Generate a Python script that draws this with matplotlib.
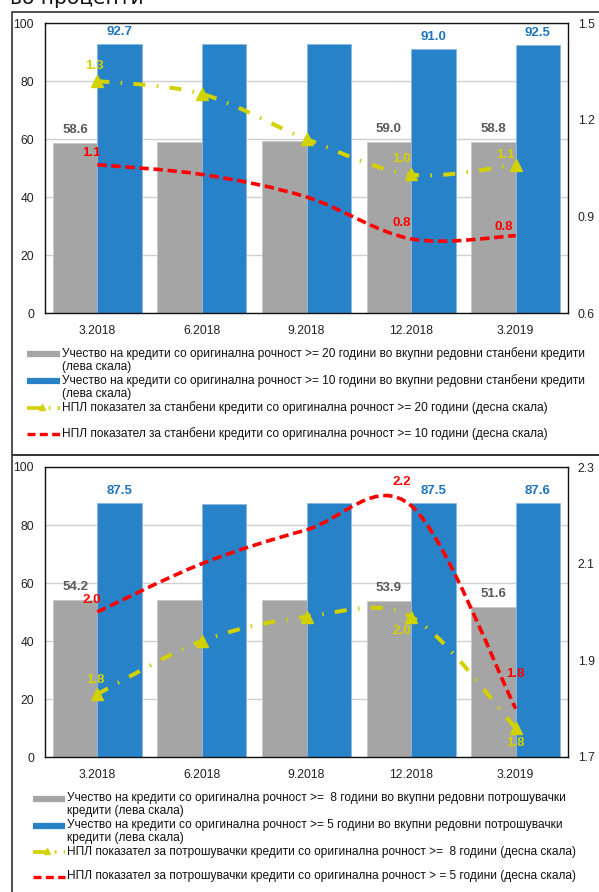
import matplotlib
matplotlib.use('Agg')
import matplotlib.pyplot as plt
from matplotlib.path import Path
from matplotlib.patches import PathPatch, Rectangle
from matplotlib.lines import Line2D

plt.rcParams['font.family'] = ['Liberation Sans', 'DejaVu Sans']

categories = ['3.2018', '6.2018', '9.2018', '12.2018', '3.2019']

# top panel (housing loans)
top_gray = [58.6, 58.9, 59.2, 59.0, 58.8]
top_blue = [92.7, 92.8, 92.7, 91.0, 92.5]
top_yellow = [1.32, 1.28, 1.14, 1.03, 1.06]
top_red = [1.06, 1.03, 0.96, 0.83, 0.84]

# bottom panel (consumer loans)
bot_gray = [54.2, 54.1, 54.0, 53.9, 51.6]
bot_blue = [87.5, 87.4, 87.6, 87.5, 87.6]
bot_yellow = [1.83, 1.94, 1.99, 1.99, 1.76]
bot_red = [2.00, 2.10, 2.17, 2.22, 1.80]

labelled = [0, 3, 4]

top_legend = [
    'Учество на кредити со оригинална рочност >= 20 години во вкупни редовни станбени кредити\n(лева скала)',
    'Учество на кредити со оригинална рочност >= 10 години во вкупни редовни станбени кредити\n(лева скала)',
    'НПЛ показател за станбени кредити со оригинална рочност >= 20 години (десна скала)',
    'НПЛ показател за станбени кредити со оригинална рочност >= 10 години (десна скала)',
]
bot_legend = [
    'Учество на кредити со оригинална рочност >=  8 години во вкупни редовни потрошувачки\nкредити (лева скала)',
    'Учество на кредити со оригинална рочност >= 5 години во вкупни редовни потрошувачки\nкредити (лева скала)',
    'НПЛ показател за потрошувачки кредити со оригинална рочност >=  8 години (десна скала)',
    'НПЛ показател за потрошувачки кредити со оригинална рочност > = 5 години (десна скала)',
]

W, H = 599, 892
GRAY = '#A5A5A5'
BLUE = '#2882C8'
YEL = '#D2D200'
RED = '#FF0000'
GRAY_T = '#595959'
BLUE_T = '#1F74BE'

fig = plt.figure(figsize=(W / 100, H / 100), dpi=100)


def fx(px):
    return px / W


def fy(py):
    return 1 - py / H


def smooth_path(xs, ys):
    P = list(zip(xs, ys))
    n = len(P)
    verts = [P[0]]
    codes = [Path.MOVETO]
    for i in range(n - 1):
        p0 = P[i - 1] if i > 0 else P[i]
        p1 = P[i]
        p2 = P[i + 1]
        p3 = P[i + 2] if i + 2 < n else P[i + 1]
        c1 = (p1[0] + (p2[0] - p0[0]) / 6, p1[1] + (p2[1] - p0[1]) / 6)
        c2 = (p2[0] - (p3[0] - p1[0]) / 6, p2[1] - (p3[1] - p1[1]) / 6)
        verts += [c1, c2, p2]
        codes += [Path.CURVE4] * 3
    return Path(verts, codes)


def panel(top_px, bot_px, gray, blue, yel, red, rlim, rticks,
          yel_off, red_off):
    ax = fig.add_axes([fx(45), fy(bot_px), fx(568) - fx(45), (bot_px - top_px) / H])
    x = list(range(len(categories)))
    w = 0.425
    ax.bar([i - w / 2 for i in x], gray, w, color=GRAY, edgecolor='#C8C8C8', lw=0.6, zorder=2)
    ax.bar([i + w / 2 for i in x], blue, w, color=BLUE, edgecolor='#8DB8E0', lw=0.6, zorder=2)
    ax.set_xlim(-0.5, len(categories) - 0.5)
    ax.set_ylim(0, 100)
    ax.set_yticks([0, 20, 40, 60, 80, 100])
    ax.set_xticks(x)
    ax.set_xticklabels(categories)
    ax.yaxis.grid(True, color='#D0D0D0', lw=1)
    ax.set_axisbelow(True)
    ax.tick_params(length=0, labelsize=8.7, colors='#222222')
    ax.tick_params(axis='y', pad=8)
    ax.tick_params(axis='x', pad=9)
    for s in ax.spines.values():
        s.set_color('#111111')
        s.set_linewidth(1.0)
    for i in labelled:
        ax.annotate(f'{gray[i]:.1f}', (i - w / 2, gray[i]), xytext=(0, 13),
                    textcoords='offset pixels', ha='center', va='center',
                    fontsize=9.5, fontweight='bold', color=GRAY_T)
        ax.annotate(f'{blue[i]:.1f}', (i + w / 2, blue[i]), xytext=(0, 12),
                    textcoords='offset pixels', ha='center', va='center',
                    fontsize=9.5, fontweight='bold', color=BLUE_T)

    ax2 = ax.twinx()
    ax2.set_ylim(*rlim)
    ax2.set_yticks(rticks)
    ax2.set_yticklabels([f'{t:.1f}' for t in rticks])
    ax2.tick_params(length=0, labelsize=8.7, pad=7, colors='#222222')
    for s in ax2.spines.values():
        s.set_visible(False)

    ax2.add_patch(PathPatch(smooth_path(x, red), fill=False, ec=RED, lw=2.6,
                            linestyle=(0, (2.6, 1.3)), capstyle='butt', zorder=3))
    ax2.add_patch(PathPatch(smooth_path(x, yel), fill=False, ec=YEL, lw=2.9,
                            linestyle=(0, (3.0, 2.8, 0.4, 2.8)), capstyle='butt', zorder=4))
    ax2.plot(x, yel, ls='none', marker='^', ms=8, color=YEL, zorder=5)

    for k, i in enumerate(labelled):
        ax2.annotate(f'{yel[i]:.1f}', (i, yel[i]), xytext=yel_off[k],
                     textcoords='offset pixels', ha='center', va='center',
                     fontsize=9.5, fontweight='bold', color=YEL)
        ax2.annotate(f'{red[i]:.1f}', (i, red[i]), xytext=red_off[k],
                     textcoords='offset pixels', ha='center', va='center',
                     fontsize=9.5, fontweight='bold', color=RED)
    return ax, ax2


panel(23, 313, top_gray, top_blue, top_yellow, top_red, (0.6, 1.5),
      [0.6, 0.9, 1.2, 1.5],
      yel_off=[(-3, 15), (-10, 15), (-10, 10)],
      red_off=[(-6, 12), (-9, 16), (-12, 9)])
panel(467, 757, bot_gray, bot_blue, bot_yellow, bot_red, (1.7, 2.3),
      [1.7, 1.9, 2.1, 2.3],
      yel_off=[(-2, 14), (-9, -14), (0, -15)],
      red_off=[(-6, 12), (-9, 24), (0, 35)])


def legend(entries, ys, hx0, hx1, tx):
    colors = [GRAY, BLUE, YEL, RED]
    for k, (lab, y) in enumerate(zip(entries, ys)):
        if k < 2:
            fig.add_artist(Line2D([fx(hx0), fx(hx1)], [fy(y), fy(y)], color=colors[k],
                                  lw=4.5, solid_capstyle='butt', transform=fig.transFigure))
        elif k == 2:
            fig.add_artist(Line2D([fx(hx0), fx(hx1)], [fy(y), fy(y)], color=YEL, lw=2.6,
                                  linestyle=(0, (4.0, 2.0, 0.5, 2.0)),
                                  transform=fig.transFigure))
            fig.add_artist(Line2D([fx((hx0 + hx1) / 2 - 2)], [fy(y - 1)], color=YEL, ls='none',
                                  marker='^', ms=5, transform=fig.transFigure))
        else:
            fig.add_artist(Line2D([fx(hx0), fx(hx1)], [fy(y), fy(y)], color=RED, lw=2.4,
                                  linestyle=(0, (2.4, 1.3)), solid_capstyle='butt',
                                  transform=fig.transFigure))
        fig.text(fx(tx), fy(y - 6.5), lab, ha='left', va='top', fontsize=8.6,
                 color='#111111', linespacing=1.08)


legend(top_legend, [354, 381, 408, 434], 27, 60, 62)
legend(bot_legend, [799, 825.5, 852, 877], 33, 65, 67)

# panel frames
fig.add_artist(Rectangle((fx(12), fy(455)), fx(620) - fx(12), (455 - 12) / H,
                         transform=fig.transFigure, fill=False, ec='#333333', lw=1.2))
fig.add_artist(Rectangle((fx(12), fy(910)), fx(620) - fx(12), (910 - 455) / H,
                         transform=fig.transFigure, fill=False, ec='#333333', lw=1.2))

fig.text(fx(10), fy(4), 'во проценти', ha='left', va='baseline', fontsize=14.5,
         color='#111111', family='DejaVu Sans')

fig.savefig('out.png', dpi=100)
